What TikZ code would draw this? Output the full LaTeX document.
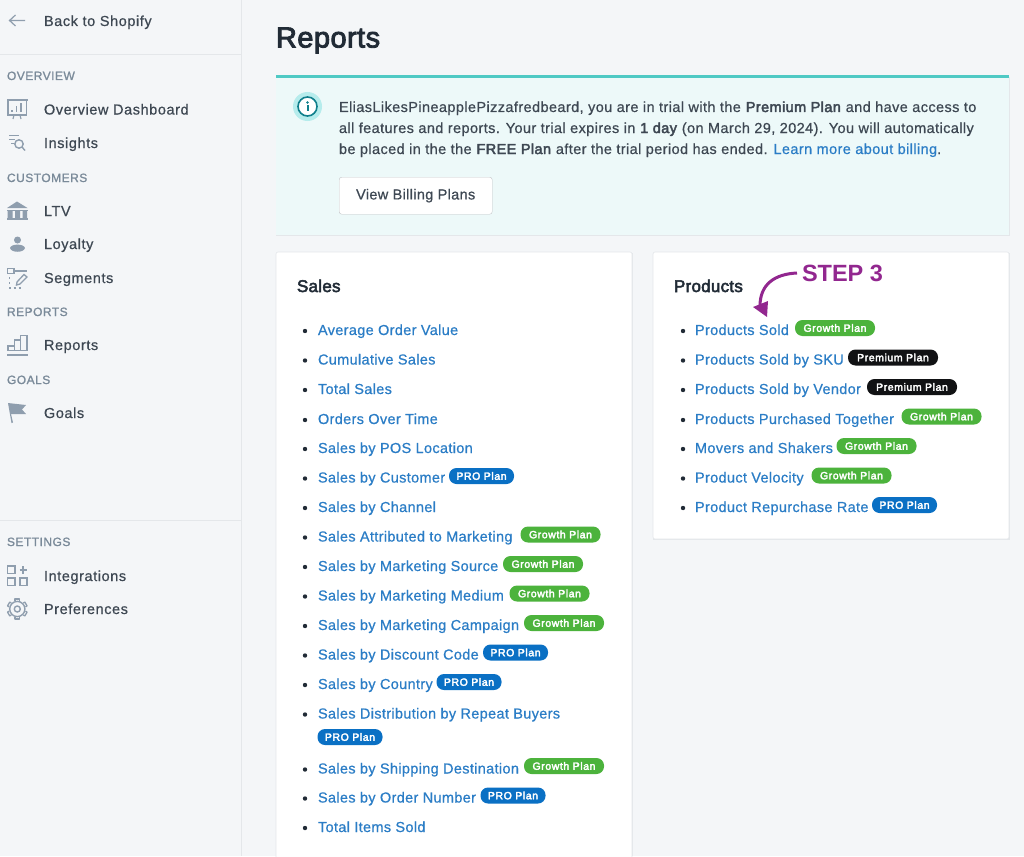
\documentclass[tikz,border=0pt]{standalone}
\usepackage{fontspec}
\setmainfont[LetterSpace=2.3,FakeBold=0.6,BoldFont={Liberation Sans},BoldFeatures={FakeBold=3}]{Liberation Sans}
\newfontfamily\bannerfont[LetterSpace=2.8,FakeBold=0.6,BoldFont={Liberation Sans},BoldFeatures={FakeBold=3}]{Liberation Sans}
\newfontfamily\navfont[LetterSpace=4,FakeBold=0.6]{Liberation Sans}
\newfontfamily\stepfont{Liberation Sans Bold}
\newfontfamily\semifont[FakeBold=3,LetterSpace=1.5]{Liberation Sans}
\newfontfamily\badgefont[FakeBold=3,LetterSpace=5.5]{Liberation Sans}
\newfontfamily\sectfont[FakeBold=1.2,LetterSpace=4]{Liberation Sans}
\definecolor{pagebg}{HTML}{F4F6F8}
\definecolor{rule}{HTML}{E4E7EA}
\definecolor{ink}{HTML}{3E4853}
\definecolor{head}{HTML}{212B36}
\definecolor{sect}{HTML}{7A8A99}
\definecolor{icon}{HTML}{8F9EAE}
\definecolor{lnk}{HTML}{2B7DC6}
\definecolor{teal}{HTML}{4FC9C4}
\definecolor{tealbg}{HTML}{EDF9F9}
\definecolor{tealdk}{HTML}{0F7F8C}
\definecolor{tealmd}{HTML}{B6ECEC}
\definecolor{grn}{HTML}{4CB33C}
\definecolor{blk}{HTML}{111214}
\definecolor{blu}{HTML}{0A70C4}
\definecolor{purp}{HTML}{92278F}
\tikzset{
 txt/.style={anchor=base west,inner sep=0pt,outer sep=0pt},
 navitem/.style={txt,text=ink,font=\fontsize{14.5}{16}\navfont},
 secthead/.style={txt,text=sect,font=\fontsize{12}{14}\sectfont},
 linkitem/.style={txt,text=lnk,font=\fontsize{14.5}{16}\selectfont},
 bannertext/.style={txt,text=ink,font=\fontsize{14.5}{16}\bannerfont},
 cardtitle/.style={txt,text=head,font=\fontsize{17}{18}\semifont},
 card/.style={fill=white,draw=rule,line width=.6pt,rounded corners=2pt},
 badge/.style={rounded corners=7.5pt,minimum height=16pt,inner sep=0pt,text=white,font=\fontsize{10.5}{12}\badgefont,anchor=center},
 growthb/.style={badge,fill=grn,minimum width=80pt},
 premb/.style={badge,fill=blk,minimum width=90pt},
 prob/.style={badge,fill=blu,minimum width=65pt},
 bul/.style={circle,fill=head,inner sep=0pt,minimum size=4.4pt},
 ico/.style={draw=icon,line width=1.5pt},
 icof/.style={fill=icon,draw=none},
}
\newcommand{\sli}[3]{\node[bul] at (305,#2-4) {};\node[linkitem] (#1) at (318,#2) {#3};}
\newcommand{\pli}[3]{\node[bul] at (683,#2-4) {};\node[linkitem] (#1) at (695,#2) {#3};}
\begin{document}
\begin{tikzpicture}[x=1pt,y=-1pt]
\useasboundingbox (0,0) rectangle (1024,856);
\fill[pagebg] (0,0) rectangle (1024,856);
% sidebar
\draw[rule,line width=.8pt] (241,0) -- (241,856);
\draw[rule,line width=.8pt] (0,54) -- (241,54);
\draw[rule,line width=.8pt] (0,520) -- (241,520);
\node[navitem] (back) at (44,26) {Back to Shopify};
\node[secthead] (s1) at (7,80) {OVERVIEW};
\node[navitem] (n1) at (44,114.5) {Overview Dashboard};
\node[navitem] (n2) at (44,148) {Insights};
\node[secthead] (s2) at (7,182) {CUSTOMERS};
\node[navitem] (n3) at (44,216) {LTV};
\node[navitem] (n4) at (44,249) {Loyalty};
\node[navitem] (n5) at (44,283) {Segments};
\node[secthead] (s3) at (7,316) {REPORTS};
\node[navitem] (n6) at (44,350) {Reports};
\node[secthead] (s4) at (7,384) {GOALS};
\node[navitem] (n7) at (44,418) {Goals};
\node[secthead] (s5) at (7,546) {SETTINGS};
\node[navitem] (n8) at (44,581) {Integrations};
\node[navitem] (n9) at (44,614) {Preferences};
% icons
\draw[ico,line width=1.2pt] (25,20.5) -- (10,20.5) (15.5,15) -- (9.5,20.5) -- (15.5,26);
\draw[ico] (8,100) rectangle (26.5,115);
\draw[icof] (7,99) rectangle (27.5,101.5);
\draw[ico,line width=1.1pt] (12,112) -- (12,110) (16.5,112) -- (16.5,106) (21,112) -- (21,103.5);
\draw[ico,line width=1.1pt] (14,115) -- (13,119) (20,115) -- (21,119);
\draw[ico,line width=1.2pt] (9,135.5) -- (19,135.5) (9,139.5) -- (15,139.5) (11,143.5) -- (14,143.5);
\draw[ico,line width=1.4pt] (19,144) circle (4.2);
\draw[ico,line width=1.4pt] (22,147) -- (25,150.5);
\fill[icon] (7,208) -- (17,201.5) -- (27.5,208) -- cycle;
\fill[icon] (7,209.5) rectangle (27.5,211);
\fill[icon] (7,217.5) rectangle (27.5,220);
\fill[icon] (7.5,211) rectangle (12.5,218) (15,211) rectangle (20,218) (22.5,211) rectangle (27,218);
\fill[icon] (17.5,240) circle (3.5);
\fill[icon] (10,248) .. controls (11,243.5) and (24,243.5) .. (25,248) .. controls (24,253) and (11,253) .. (10,248) -- cycle;
\draw[ico,line width=1.3pt] (7.5,268.5) rectangle (14,273.5);
\draw[ico,line width=1.3pt] (14,271) -- (27,271);
\draw[ico,line width=1.3pt] (17,282) -- (24,274.5) -- (27,277) -- (20,284) -- (16.5,285) -- cycle;
\draw[ico,line width=1.3pt,dash pattern=on 2pt off 3pt] (9.5,277) -- (9.5,288) -- (23,288);
\draw[ico] (8,350.5) -- (8,346) -- (14.5,346) -- (14.5,350.5);
\draw[ico] (14.5,350.5) -- (14.5,340) -- (20.5,340) -- (20.5,350.5);
\draw[ico] (20.5,350.5) -- (20.5,335.5) -- (27,335.5) -- (27,350.5);
\draw[ico] (7,350.5) -- (27.5,350.5);
\draw[ico] (7,355) -- (27.5,355);
\fill[icon] (8,403) -- (26,405) -- (22,409.5) -- (26,414) -- (11,414) -- (13,422.5) -- (11.5,423) -- cycle;
\draw[ico] (7.5,566) rectangle (15,573.5);
\draw[ico] (7.5,578) rectangle (15,585.5);
\draw[ico] (20,578) rectangle (27,585.5);
\draw[ico] (19.5,570) -- (27,570) (23.2,566) -- (23.2,574);
\foreach \a in {0,60,...,300}{\draw[ico,line width=1.3pt,join=round] (17.3,609) ++(\a-90:8.2) ++(\a:-2.2) -- ++(\a-90:1.8) -- ++(\a:4.4) -- ++(\a-90:-1.8);}
\draw[ico,line width=1.4pt] (17.3,609) circle (7.6);
\draw[ico,line width=1.4pt] (17.3,609) circle (3);
% title
\node[txt,text=head,font=\fontsize{29}{30}\semifont] (title) at (276,47.5) {Reports};
% banner
\fill[rule] (275.5,77) rectangle (1009.5,236);
\fill[tealbg] (276,75) rectangle (1009,235);
\fill[teal] (276,75) rectangle (1009,78);
\fill[tealmd] (307.5,106.5) circle (14.5);
\draw[tealdk,line width=1.6pt,fill=white] (307.5,106.5) circle (9.5);
\fill[tealdk] (307.5,102.5) circle (1.3);
\fill[tealdk] (306.5,105.5) rectangle (308.5,111.5);
\node[bannertext] (b1) at (339,112) {EliasLikesPineapplePizzafredbeard, you are in trial with the \textbf{Premium Plan} and have access to};
\node[bannertext] (b2) at (339,133) {all features and reports. Your trial expires in \textbf{1 day} (on March 29, 2024). You will automatically};
\node[bannertext] (b3) at (339,154) {be placed in the the \textbf{FREE Plan} after the trial period has ended. \textcolor{lnk}{Learn more about billing}.};
\node[draw=rule!85!black,fill=white,rounded corners=2.5pt,minimum width=153pt,minimum height=37pt,inner sep=0pt,text=ink,font=\fontsize{14.5}{16}\selectfont,anchor=north west] (btn) at (339,177) {View Billing Plans};
% cards
\fill[rule] (275.5,253) rectangle (632.5,856);
\path[card] (276,252) rectangle (632,870);
\fill[rule] (652.5,253) rectangle (1009.5,540);
\path[card] (653,252) rectangle (1009,539);
\node[cardtitle] (sales) at (297,292) {Sales};
\node[cardtitle] (prods) at (674,292) {Products};
\sli{a1}{335}{Average Order Value}
\sli{a2}{364.5}{Cumulative Sales}
\sli{a3}{394}{Total Sales}
\sli{a4}{424}{Orders Over Time}
\sli{a5}{453}{Sales by POS Location}
\sli{a6}{482.5}{Sales by Customer}
\sli{a7}{512}{Sales by Channel}
\sli{a8}{541.5}{Sales Attributed to Marketing}
\sli{a9}{571}{Sales by Marketing Source}
\sli{a10}{600.5}{Sales by Marketing Medium}
\sli{a11}{630}{Sales by Marketing Campaign}
\sli{a12}{659.5}{Sales by Discount Code}
\sli{a13}{689}{Sales by Country}
\sli{a14}{718.5}{Sales Distribution by Repeat Buyers}
\sli{a15}{773.5}{Sales by Shipping Destination}
\sli{a16}{802.5}{Sales by Order Number}
\sli{a17}{832}{Total Items Sold}
\node[prob] (ba6) at (481.5,476) {PRO Plan};
\node[growthb] (ba8) at (560.5,534.5) {Growth Plan};
\node[growthb] (ba9) at (543,564) {Growth Plan};
\node[growthb] (ba10) at (549.5,593.5) {Growth Plan};
\node[growthb] (ba11) at (564,623) {Growth Plan};
\node[prob] (ba12) at (515.5,652.5) {PRO Plan};
\node[prob] (ba13) at (469,682) {PRO Plan};
\node[prob] (ba14) at (350,737) {PRO Plan};
\node[growthb] (ba15) at (564,766) {Growth Plan};
\node[prob] (ba16) at (513,795.5) {PRO Plan};
\pli{p1}{335}{Products Sold}
\pli{p2}{364.5}{Products Sold by SKU}
\pli{p3}{394}{Products Sold by Vendor}
\pli{p4}{424}{Products Purchased Together}
\pli{p5}{453}{Movers and Shakers}
\pli{p6}{482.5}{Product Velocity}
\pli{p7}{512}{Product Repurchase Rate}
\node[growthb] (bp1) at (835,328) {Growth Plan};
\node[premb] (bp2) at (893,357.5) {Premium Plan};
\node[premb] (bp3) at (912,387) {Premium Plan};
\node[growthb] (bp4) at (941.5,416.5) {Growth Plan};
\node[growthb] (bp5) at (876.5,446) {Growth Plan};
\node[growthb] (bp6) at (851.5,475.5) {Growth Plan};
\node[prob] (bp7) at (904.5,505) {PRO Plan};
% annotation
\node[txt,text=purp,font=\fontsize{23.5}{24}\stepfont] (step) at (802,281) {STEP 3};
\coordinate (tip) at (760,306);
\draw[purp,line width=3pt] (step.west |- 0,273) ++(-5,0) .. controls (775,274) and (760,284) .. (tip);
\fill[purp] (753,307) -- (768,301) -- (767,317) -- cycle;
\end{tikzpicture}
\end{document}
